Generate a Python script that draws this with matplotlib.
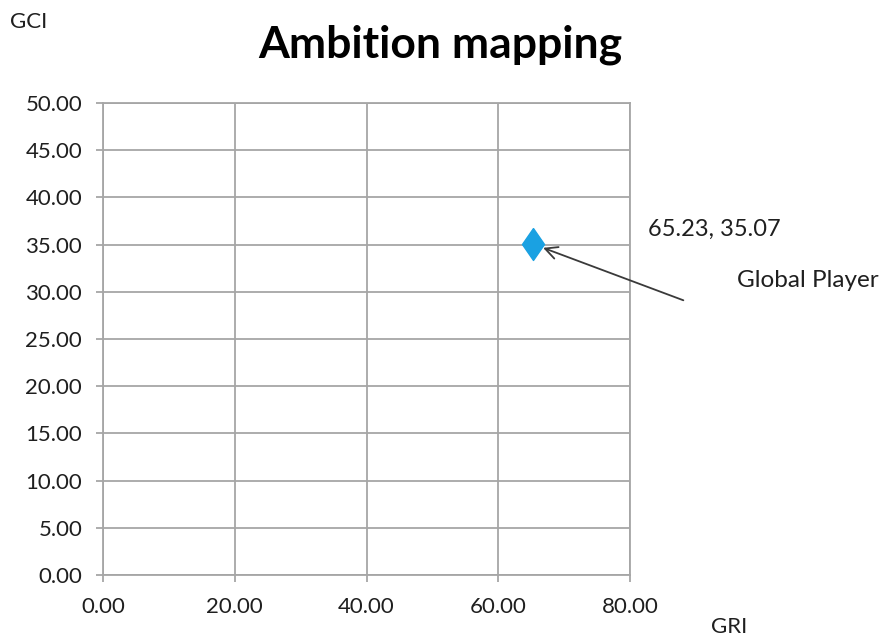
import matplotlib.pyplot as plt
from matplotlib.ticker import MultipleLocator, FormatStrFormatter

plt.rcParams['font.family'] = ['Lato', 'DejaVu Sans']

# the one scored player
gri = [65.23]
gci = [35.07]
player_name = "Global Player"

grid_col = "#a6a6a6"
text_col = "#1f1f1f"

fig = plt.figure(figsize=(8.95, 6.39), dpi=100)
ax = fig.add_axes([0.1151, 0.1002, 0.5888, 0.7386])

# tall diamond marker
diamond = [(0, 1), (0.69, 0), (0, -1), (-0.69, 0), (0, 1)]
ax.plot(gri, gci, marker=diamond, markersize=23, color="#1aa1e2",
        linestyle="none", zorder=3, clip_on=False)

ax.set_xlim(0, 80)
ax.set_ylim(0, 50)
ax.xaxis.set_major_locator(MultipleLocator(20))
ax.yaxis.set_major_locator(MultipleLocator(5))
ax.xaxis.set_major_formatter(FormatStrFormatter("%.2f"))
ax.yaxis.set_major_formatter(FormatStrFormatter("%.2f"))

ax.grid(True, color=grid_col, linewidth=1.3)
for side in ax.spines.values():
    side.set_color(grid_col)
    side.set_linewidth(1.3)
ax.tick_params(axis="both", colors=grid_col, labelcolor=text_col,
               labelsize=16, length=5, width=1.3)
ax.tick_params(axis="x", pad=11)
ax.tick_params(axis="y", pad=10)

fig.text(0.492, 0.93, "Ambition mapping", fontsize=32, fontweight="bold",
         color="black", ha="center", va="center")

fig.text(0.011, 0.965, "GCI", fontsize=16, color=text_col, va="center")
fig.text(0.794, 0.018, "GRI", fontsize=16, color=text_col, va="center")

# value label and pointer to the player
ax.annotate("", xy=(gri[0], gci[0]), xytext=(88.1, 29.1),
            arrowprops=dict(arrowstyle="->", color="#3a3a3a", lw=1.3,
                            shrinkA=0, shrinkB=8, mutation_scale=22),
            annotation_clip=False)
ax.text(82.7, 36.6, f"{gri[0]:.2f}, {gci[0]:.2f}", fontsize=17,
        color=text_col, va="center", clip_on=False)
ax.text(96.2, 31.2, player_name, fontsize=17.5, color=text_col,
        va="center", clip_on=False)

fig.savefig("out.png", dpi=100, facecolor="white")
